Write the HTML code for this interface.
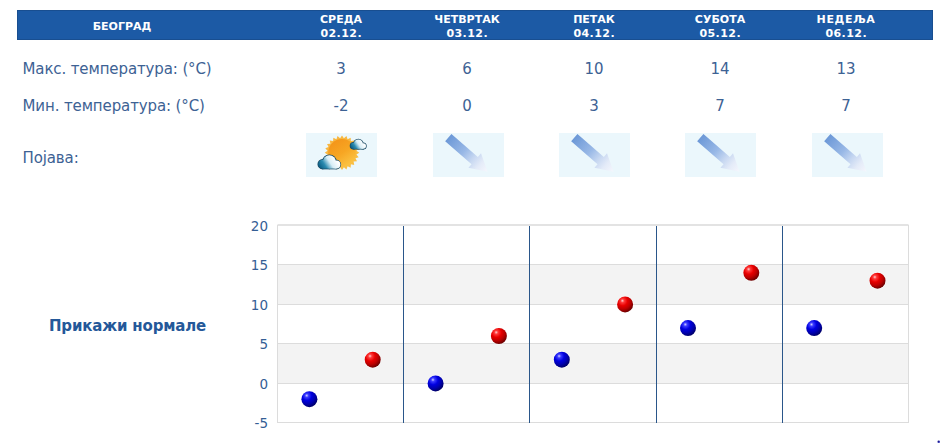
<!DOCTYPE html>
<html><head><meta charset="utf-8">
<style>
*{margin:0;padding:0;box-sizing:border-box}
html,body{width:940px;height:443px;overflow:hidden;background:#fff}
body{position:relative;font-family:"DejaVu Sans","Liberation Sans",sans-serif;color:#3d6294}
.a{position:absolute;white-space:nowrap}
#hdr{position:absolute;left:17px;top:10px;width:916px;height:30px;background:#1c5aa5;border:1px solid #184e90}
.h{position:absolute;color:#fff;font-weight:bold;font-size:11px;line-height:14.5px;text-align:center;width:120px;white-space:nowrap}
.d{letter-spacing:0.45px;margin-left:0.45px}
.lbl{position:absolute;left:22.5px;font-size:15px;letter-spacing:-0.12px;line-height:18px;white-space:nowrap}
.num{position:absolute;font-size:15px;line-height:18px;width:100px;text-align:center}
.ico{position:absolute;top:133px;width:71px;height:44px;background:#ebf7fc;overflow:hidden}
.yl{position:absolute;right:672px;font-size:13.5px;line-height:16px;color:#355e95;text-align:right}
</style></head><body>
<div id="hdr"></div>
<div class="h" style="left:62px;top:20px">БЕОГРАД</div>
<div class="h" style="left:281px;top:12.5px">СРЕДА<br><span class="d">02.12.</span></div>
<div class="h" style="left:407px;top:12.5px">ЧЕТВРТАК<br><span class="d">03.12.</span></div>
<div class="h" style="left:534px;top:12.5px">ПЕТАК<br><span class="d">04.12.</span></div>
<div class="h" style="left:660px;top:12.5px">СУБОТА<br><span class="d">05.12.</span></div>
<div class="h" style="left:786px;top:12.5px"><span style="letter-spacing:0.6px">НЕДЕЉА</span><br><span class="d">06.12.</span></div>

<div class="lbl" style="top:60px">Макс. температура: (°C)</div>
<div class="lbl" style="top:97px">Мин. температура: (°C)</div>
<div class="lbl" style="top:149px">Појава:</div>

<div class="num" style="left:291px;top:60px">3</div>
<div class="num" style="left:417px;top:60px">6</div>
<div class="num" style="left:544px;top:60px">10</div>
<div class="num" style="left:670px;top:60px">14</div>
<div class="num" style="left:796px;top:60px">13</div>
<div class="num" style="left:291px;top:97px">-2</div>
<div class="num" style="left:417px;top:97px">0</div>
<div class="num" style="left:544px;top:97px">3</div>
<div class="num" style="left:670px;top:97px">7</div>
<div class="num" style="left:796px;top:97px">7</div>

<!-- icons -->
<div class="ico" style="left:306px"><svg width="71" height="44" viewBox="0 0 71 44" style="position:absolute;left:0;top:0">
<defs>
<linearGradient id="sg" gradientUnits="userSpaceOnUse" x1="28" y1="8" x2="44" y2="32"><stop offset="0" stop-color="#f4951a"/><stop offset="0.5" stop-color="#f7a623"/><stop offset="1" stop-color="#fbc444"/></linearGradient>
<linearGradient id="ss" gradientUnits="userSpaceOnUse" x1="22" y1="4" x2="50" y2="36"><stop offset="0" stop-color="#f7b540"/><stop offset="1" stop-color="#f9c044"/></linearGradient>
<linearGradient id="cg" gradientUnits="userSpaceOnUse" x1="2" y1="13" x2="17" y2="3"><stop offset="0" stop-color="#0c5f85"/><stop offset="0.3" stop-color="#2b8bb0"/><stop offset="0.62" stop-color="#d6edf6"/><stop offset="1" stop-color="#ffffff"/></linearGradient>
</defs>
<polygon points="36.00,2.40 37.91,5.22 40.48,2.99 41.59,6.21 44.65,4.72 44.89,8.12 48.23,7.47 47.58,10.81 50.98,11.05 49.49,14.11 52.71,15.22 50.48,17.79 53.30,19.70 50.48,21.61 52.71,24.18 49.49,25.29 50.98,28.35 47.58,28.59 48.23,31.93 44.89,31.28 44.65,34.68 41.59,33.19 40.48,36.41 37.91,34.18 36.00,37.00 34.09,34.18 31.52,36.41 30.41,33.19 27.35,34.68 27.11,31.28 23.77,31.93 24.42,28.59 21.02,28.35 22.51,25.29 19.29,24.18 21.52,21.61 18.70,19.70 21.52,17.79 19.29,15.22 22.51,14.11 21.02,11.05 24.42,10.81 23.77,7.47 27.11,8.12 27.35,4.72 30.41,6.21 31.52,2.99 34.09,5.22" fill="url(#ss)"/>
<circle cx="36" cy="19.7" r="13.8" fill="url(#sg)"/>
<g transform="translate(12,21.6) scale(1)">
 <g fill="#1a4b64" stroke="#1a4b64" stroke-width="1.5"><circle cx="4.6" cy="9.6" r="4.4"/><circle cx="11.4" cy="7.2" r="6.6"/><circle cx="18.4" cy="10" r="4"/><rect x="4.6" y="9" width="13.8" height="5"/></g>
 <g fill="url(#cg)"><circle cx="4.6" cy="9.6" r="4.4"/><circle cx="11.4" cy="7.2" r="6.6"/><circle cx="18.4" cy="10" r="4"/><rect x="4.6" y="9" width="13.8" height="5"/></g>
</g>
<g transform="translate(44.3,6.0) scale(0.7)">
 <g fill="#1a4b64" stroke="#1a4b64" stroke-width="2.1"><circle cx="4.6" cy="9.6" r="4.4"/><circle cx="11.4" cy="7.2" r="6.6"/><circle cx="18.4" cy="10" r="4"/><rect x="4.6" y="9" width="13.8" height="5"/></g>
 <g fill="url(#cg)"><circle cx="4.6" cy="9.6" r="4.4"/><circle cx="11.4" cy="7.2" r="6.6"/><circle cx="18.4" cy="10" r="4"/><rect x="4.6" y="9" width="13.8" height="5"/></g>
</g>
</svg></div>
<div class="ico" style="left:433px"><svg width="71" height="44" viewBox="0 0 71 44" style="position:absolute;left:0;top:0">
<defs><linearGradient id="ag1" x1="0" y1="0" x2="1" y2="0"><stop offset="0" stop-color="#6c98d7"/><stop offset="0.4" stop-color="#98b8e6"/><stop offset="0.62" stop-color="#c6d7f1"/><stop offset="0.8" stop-color="#e4ebf8"/><stop offset="1" stop-color="#f5f7fd"/></linearGradient></defs>
<g transform="translate(15.3,4.6) rotate(41)"><polygon points="0,-4.8 35,-4.8 35,-9.6 52,0 35,9.6 35,4.8 0,4.8" fill="url(#ag1)"/></g>
</svg></div>
<div class="ico" style="left:559px"><svg width="71" height="44" viewBox="0 0 71 44" style="position:absolute;left:0;top:0">
<defs><linearGradient id="ag2" x1="0" y1="0" x2="1" y2="0"><stop offset="0" stop-color="#6c98d7"/><stop offset="0.4" stop-color="#98b8e6"/><stop offset="0.62" stop-color="#c6d7f1"/><stop offset="0.8" stop-color="#e4ebf8"/><stop offset="1" stop-color="#f5f7fd"/></linearGradient></defs>
<g transform="translate(15.3,4.6) rotate(41)"><polygon points="0,-4.8 35,-4.8 35,-9.6 52,0 35,9.6 35,4.8 0,4.8" fill="url(#ag2)"/></g>
</svg></div>
<div class="ico" style="left:685px"><svg width="71" height="44" viewBox="0 0 71 44" style="position:absolute;left:0;top:0">
<defs><linearGradient id="ag3" x1="0" y1="0" x2="1" y2="0"><stop offset="0" stop-color="#6c98d7"/><stop offset="0.4" stop-color="#98b8e6"/><stop offset="0.62" stop-color="#c6d7f1"/><stop offset="0.8" stop-color="#e4ebf8"/><stop offset="1" stop-color="#f5f7fd"/></linearGradient></defs>
<g transform="translate(15.3,4.6) rotate(41)"><polygon points="0,-4.8 35,-4.8 35,-9.6 52,0 35,9.6 35,4.8 0,4.8" fill="url(#ag3)"/></g>
</svg></div>
<div class="ico" style="left:812px"><svg width="71" height="44" viewBox="0 0 71 44" style="position:absolute;left:0;top:0">
<defs><linearGradient id="ag4" x1="0" y1="0" x2="1" y2="0"><stop offset="0" stop-color="#6c98d7"/><stop offset="0.4" stop-color="#98b8e6"/><stop offset="0.62" stop-color="#c6d7f1"/><stop offset="0.8" stop-color="#e4ebf8"/><stop offset="1" stop-color="#f5f7fd"/></linearGradient></defs>
<g transform="translate(15.3,4.6) rotate(41)"><polygon points="0,-4.8 35,-4.8 35,-9.6 52,0 35,9.6 35,4.8 0,4.8" fill="url(#ag4)"/></g>
</svg></div>

<div class="a" style="left:49px;top:317px;font-size:15px;letter-spacing:-0.18px;font-weight:bold;line-height:18px;color:#245899">Прикажи нормале</div>

<!-- chart -->
<svg class="a" style="left:0;top:0" width="940" height="443" viewBox="0 0 940 443">
  <rect x="277.5" y="264.5" width="631" height="39.5" fill="#f3f3f3"/>
  <rect x="277.5" y="343.5" width="631" height="39.5" fill="#f3f3f3"/>
  <g stroke="#dcdcdc" stroke-width="1" fill="none">
    <line x1="277.5" y1="225" x2="908.5" y2="225" stroke="#e3e3e3" stroke-width="2"/>
    <line x1="277.5" y1="264.5" x2="908.5" y2="264.5"/>
    <line x1="277.5" y1="304.5" x2="908.5" y2="304.5"/>
    <line x1="277.5" y1="343.5" x2="908.5" y2="343.5"/>
    <line x1="277.5" y1="383.5" x2="908.5" y2="383.5"/>
    <line x1="277.5" y1="422.5" x2="908.5" y2="422.5"/>
    <line x1="277.5" y1="225" x2="277.5" y2="423"/>
    <line x1="908.5" y1="225" x2="908.5" y2="423"/>
  </g>
  <g stroke="#2a568a" stroke-width="1">
    <line x1="403.5" y1="226" x2="403.5" y2="423"/>
    <line x1="529.5" y1="226" x2="529.5" y2="423"/>
    <line x1="656.5" y1="226" x2="656.5" y2="423"/>
    <line x1="782.5" y1="226" x2="782.5" y2="423"/>
  </g>
  <defs>
    <radialGradient id="gb" cx="0.36" cy="0.3" r="0.72" fx="0.33" fy="0.27">
      <stop offset="0" stop-color="#d0d0ff"/>
      <stop offset="0.16" stop-color="#3a3aff"/>
      <stop offset="0.42" stop-color="#0000e0"/>
      <stop offset="0.7" stop-color="#0000b0"/>
      <stop offset="1" stop-color="#000066"/>
    </radialGradient>
    <radialGradient id="gr" cx="0.36" cy="0.3" r="0.72" fx="0.33" fy="0.27">
      <stop offset="0" stop-color="#ffd0d0"/>
      <stop offset="0.16" stop-color="#ff3a3a"/>
      <stop offset="0.42" stop-color="#e80000"/>
      <stop offset="0.7" stop-color="#bc0000"/>
      <stop offset="1" stop-color="#6a0000"/>
    </radialGradient>
  </defs>
  <circle cx="309.4" cy="399.2" r="8.6" fill="#fff" fill-opacity="0.55"/><circle cx="309.4" cy="399.2" r="8" fill="url(#gb)"/>
  <circle cx="372.7" cy="359.7" r="8.6" fill="#fff" fill-opacity="0.55"/><circle cx="372.7" cy="359.7" r="8" fill="url(#gr)"/>
  <circle cx="435.6" cy="383.4" r="8.6" fill="#fff" fill-opacity="0.55"/><circle cx="435.6" cy="383.4" r="8" fill="url(#gb)"/>
  <circle cx="498.9" cy="336.0" r="8.6" fill="#fff" fill-opacity="0.55"/><circle cx="498.9" cy="336.0" r="8" fill="url(#gr)"/>
  <circle cx="561.8" cy="359.7" r="8.6" fill="#fff" fill-opacity="0.55"/><circle cx="561.8" cy="359.7" r="8" fill="url(#gb)"/>
  <circle cx="625.1" cy="304.4" r="8.6" fill="#fff" fill-opacity="0.55"/><circle cx="625.1" cy="304.4" r="8" fill="url(#gr)"/>
  <circle cx="688.0" cy="328.1" r="8.6" fill="#fff" fill-opacity="0.55"/><circle cx="688.0" cy="328.1" r="8" fill="url(#gb)"/>
  <circle cx="751.3" cy="272.8" r="8.6" fill="#fff" fill-opacity="0.55"/><circle cx="751.3" cy="272.8" r="8" fill="url(#gr)"/>
  <circle cx="814.2" cy="328.1" r="8.6" fill="#fff" fill-opacity="0.55"/><circle cx="814.2" cy="328.1" r="8" fill="url(#gb)"/>
  <circle cx="877.5" cy="280.7" r="8.6" fill="#fff" fill-opacity="0.55"/><circle cx="877.5" cy="280.7" r="8" fill="url(#gr)"/>
  <circle cx="939.6" cy="442.6" r="1.9" fill="#7070f0" fill-opacity="0.8"/><circle cx="938.6" cy="441.7" r="1.1" fill="#1a1a90"/>
</svg>
<div class="yl" style="top:218px">20</div>
<div class="yl" style="top:257px">15</div>
<div class="yl" style="top:297px">10</div>
<div class="yl" style="top:336px">5</div>
<div class="yl" style="top:376px">0</div>
<div class="yl" style="top:415px">-5</div>
</body></html>
